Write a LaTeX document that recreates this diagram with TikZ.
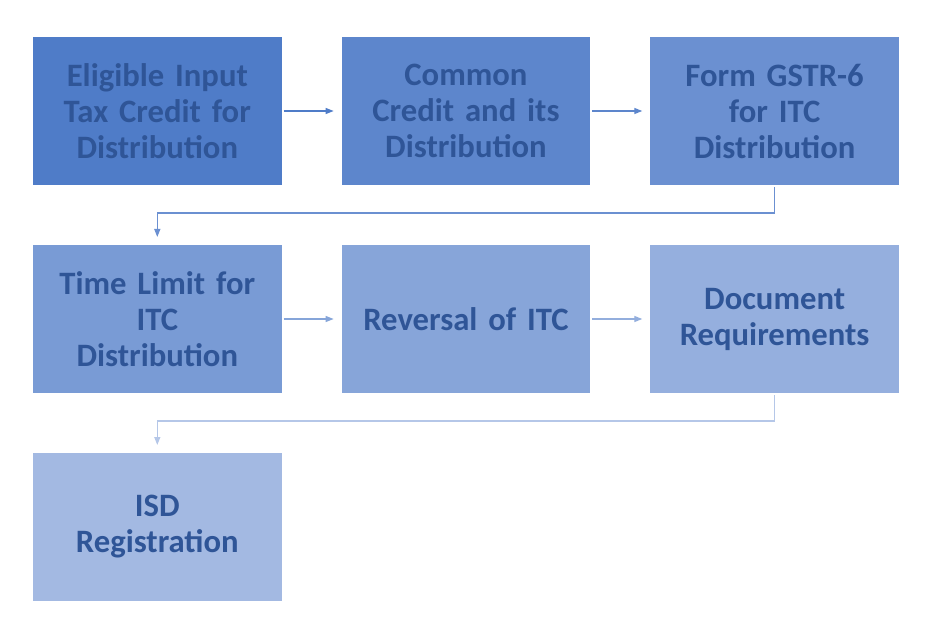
\documentclass[tikz,border=0pt]{standalone}
\usepackage{fontspec}
\setmainfont{Carlito}[BoldFont={Carlito Bold}]
\usetikzlibrary{positioning,arrows.meta}
\definecolor{txtblue}{RGB}{47,85,151}
\definecolor{boxa}{RGB}{79,124,200}
\definecolor{boxb}{RGB}{93,134,204}
\definecolor{boxc}{RGB}{107,144,209}
\definecolor{boxd}{RGB}{121,155,213}
\definecolor{boxe}{RGB}{135,165,217}
\definecolor{boxf}{RGB}{149,175,222}
\definecolor{boxg}{RGB}{163,185,226}
\tikzset{
    stepbox/.style={rectangle, fill=#1, minimum width=186.5pt, minimum height=111pt,
        inner sep=0pt, outer sep=0pt, text width=180pt, align=center, text=txtblue,
        font=\fontsize{24.5}{27}\selectfont\bfseries},
    link/.style={draw=#1, line width=1pt, -{Triangle[length=6pt,width=4.5pt]},
        shorten <=1.5pt, shorten >=6pt}
}
\begin{document}
\begin{tikzpicture}[x=0.75pt,y=-0.75pt, node distance=45pt]
    \useasboundingbox (0,0) rectangle (943,638);
    % first row
    \node[stepbox=boxa] (elig) at (157.3,111) {Eligible Input\\Tax Credit for\\Distribution};
    \node[stepbox=boxb, right=of elig] (common) {Common\\Credit and its\\Distribution};
    \node[stepbox=boxc, right=of common] (gstr) {Form GSTR-6\\for ITC\\Distribution};
    % second row
    \node[stepbox=boxd, below=of elig] (limit) {Time Limit for\\ITC\\Distribution};
    \node[stepbox=boxe, right=of limit] (reversal) {Reversal of ITC};
    \node[stepbox=boxf, right=of reversal] (docs) {Document\\Requirements};
    % third row
    \node[stepbox=boxg, below=of limit] (isd) {ISD\\Registration};
    % connectors
    \draw[link=boxa] (elig) -- (common);
    \draw[link=boxb] (common) -- (gstr);
    \draw[link=boxc] (gstr.south) -- ++(0,28) -| (limit.north);
    \draw[link=boxd!90!white] (limit) -- (reversal);
    \draw[link=boxe!90!white] (reversal) -- (docs);
    \draw[link=boxg!80!white] (docs.south) -- ++(0,28) -| (isd.north);
\end{tikzpicture}
\end{document}
